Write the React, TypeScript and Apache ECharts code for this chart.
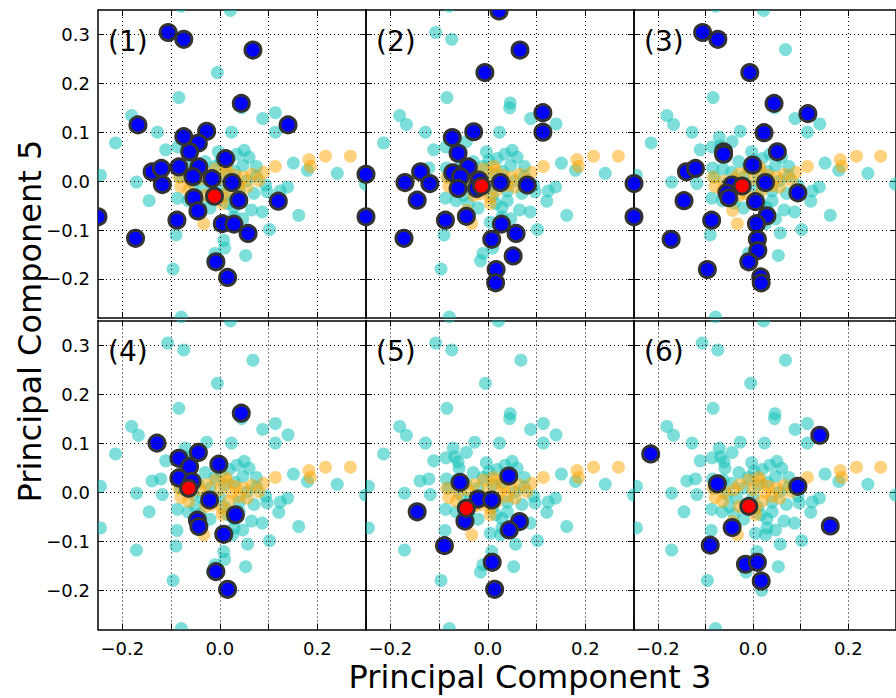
import React, { useEffect, useRef } from "react";
import * as echarts from "echarts";

// ---- axis ranges & ticks ----
const X_MIN = -0.25;
const X_MAX = 0.3;
const Y_MIN = -0.28;
const Y_MAX = 0.35;
const xTickValues = [-0.2, -0.1, 0.0, 0.1, 0.2, 0.3];
const xLabelValues = [-0.2, 0.0, 0.2];
const yTickValues = [-0.2, -0.1, 0.0, 0.1, 0.2, 0.3];
const xGridValues = [-0.2, -0.1, 0.0, 0.1, 0.2];
const yGridValues = [-0.2, -0.1, 0.0, 0.1, 0.2, 0.3];

const panelLabels = ["(1)", "(2)", "(3)", "(4)", "(5)", "(6)"];
const xTitle = "Principal Component 3";
const yTitle = "Principal Component 5";

// ---- background cloud (same in every panel) ----
const bgCyan: number[][] = [
  [0.022, 0.349], [-0.079, 0.358], [-0.107, 0.304], [-0.074, 0.29], [0.068, 0.269],
  [-0.005, 0.222], [-0.084, 0.171], [0.046, 0.16], [0.045, 0.15], [-0.181, 0.134],
  [-0.167, 0.116], [0.088, 0.128], [0.114, 0.14], [0.14, 0.117], [0.114, 0.1],
  [0.024, 0.1], [-0.027, 0.102], [-0.128, 0.1], [-0.214, 0.078], [-0.111, 0.064],
  [-0.071, 0.09], [-0.068, 0.072], [-0.061, 0.062], [-0.044, 0.081], [-0.086, 0.07],
  [-0.059, 0.049], [-0.003, 0.06], [0.05, 0.063], [0.06, 0.049], [0.047, 0.032],
  [0.019, 0.046], [0.002, 0.042], [0.151, 0.037], [0.18, 0.022], [0.241, 0.016],
  [0.299, -0.006], [-0.245, 0.012], [-0.171, -0.002], [-0.118, -0.005], [-0.139, 0.023],
  [-0.121, 0.027], [-0.085, 0.027], [-0.081, 0.008], [-0.145, -0.04], [-0.245, -0.073],
  [-0.171, -0.118], [-0.087, -0.035], [-0.088, -0.078], [-0.09, -0.11], [-0.096, -0.18],
  [-0.079, -0.278], [0.008, -0.121], [0.01, -0.137], [-0.01, -0.148], [-0.015, -0.163],
  [0.053, -0.152], [0.018, -0.2], [0.057, -0.106], [0.102, -0.099], [0.087, -0.063],
  [0.162, -0.07], [0.121, -0.041], [0.139, -0.012], [0.124, -0.02], [0.097, -0.022],
  [0.094, -0.008], [0.065, -0.059], [0.047, -0.077], [0.005, -0.084], [0.026, -0.087],
  [0.029, -0.073], [0.016, -0.046], [0.029, -0.054], [0.04, -0.04], [-0.05, -0.029],
  [-0.063, 0.025], [-0.045, 0.018], [-0.03, 0.04], [-0.01, 0.03], [0.01, 0.015],
  [-0.055, -0.005], [-0.035, -0.012], [-0.02, 0.008], [0.0, -0.01], [0.03, 0.02],
  [0.055, 0.0], [0.075, 0.01], [0.07, -0.025], [0.04, -0.02], [-0.04, -0.045],
  [-0.065, -0.04], [0.01, -0.03], [-0.02, -0.055], [0.075, 0.03], [0.035, 0.055],
];

const bgOrange: number[][] = [
  [0.217, 0.051], [0.268, 0.051], [0.183, 0.044], [0.186, 0.03], [0.114, 0.03],
  [0.09, 0.018], [0.066, 0.014], [0.049, 0.008], [0.032, 0.012], [0.015, 0.022],
  [-0.009, 0.025], [-0.029, 0.015], [-0.084, 0.008], [-0.08, -0.011], [-0.064, -0.019],
  [-0.029, -0.029], [-0.016, -0.026], [0.005, -0.033], [0.018, -0.019], [0.039, -0.009],
  [0.056, -0.012], [-0.033, -0.087], [0.005, -0.046], [-0.043, -0.06], [0.08, 0.001],
  [-0.04, 0.005], [0.0, 0.005], [0.025, 0.0], [-0.06, 0.0], [0.012, 0.03],
];

// ---- highlighted points per panel ----
const panel1Blue: number[][] = [
  [-0.106, 0.304], [-0.074, 0.29], [0.068, 0.268], [0.044, 0.159], [-0.168, 0.115],
  [0.14, 0.115], [-0.027, 0.102], [-0.074, 0.091], [-0.044, 0.078], [-0.062, 0.06],
  [0.012, 0.046], [-0.084, 0.029], [-0.043, 0.029], [-0.139, 0.019], [-0.12, 0.026],
  [-0.118, -0.007], [-0.055, 0.009], [-0.016, 0.005], [0.025, -0.003], [-0.053, -0.034],
  [0.039, -0.039], [0.12, -0.041], [-0.045, -0.061], [-0.088, -0.08], [0.005, -0.087],
  [0.029, -0.088], [0.058, -0.107], [-0.173, -0.117], [-0.008, -0.165], [0.016, -0.197],
  [-0.25, -0.073], [0.3, 0.014], [0.3, -0.073],
];
const panel2Blue: number[][] = [
  [0.023, 0.348], [0.066, 0.268], [-0.006, 0.222], [0.113, 0.14], [0.113, 0.1],
  [-0.029, 0.101], [-0.073, 0.089], [-0.061, 0.057], [-0.04, 0.029], [-0.138, 0.019],
  [-0.17, -0.003], [-0.119, -0.005], [-0.072, 0.017], [-0.056, 0.009], [-0.061, -0.015],
  [-0.018, 0.002], [-0.023, -0.015], [0.026, -0.003], [0.081, -0.008], [-0.145, -0.039],
  [-0.087, -0.08], [-0.044, -0.072], [0.028, -0.088], [0.058, -0.107], [0.008, -0.119],
  [-0.172, -0.117], [0.052, -0.153], [0.017, -0.181], [0.016, -0.208],
  [-0.25, 0.014], [-0.25, -0.073], [0.3, -0.005], [0.3, -0.073],
];
const panel3Blue: number[][] = [
  [-0.106, 0.304], [-0.074, 0.29], [-0.007, 0.222], [0.044, 0.159], [0.115, 0.138],
  [0.023, 0.099], [-0.062, 0.06], [-0.062, 0.055], [0.051, 0.06], [-0.001, 0.033],
  [-0.14, 0.019], [-0.121, 0.026], [0.026, -0.003], [-0.044, -0.008], [-0.055, -0.024],
  [-0.051, -0.034], [-0.145, -0.04], [0.005, -0.042], [0.029, -0.071], [0.007, -0.087],
  [0.094, -0.024], [-0.087, -0.08], [0.009, -0.119], [0.01, -0.142], [-0.009, -0.165],
  [-0.172, -0.119], [-0.096, -0.181], [0.016, -0.196], [0.017, -0.208],
  [-0.25, -0.005], [-0.25, -0.073],
];
const panel4Blue: number[][] = [
  [0.044, 0.161], [-0.129, 0.1], [-0.044, 0.081], [-0.084, 0.069], [-0.002, 0.057],
  [-0.062, 0.052], [-0.084, 0.029], [-0.057, 0.022], [-0.021, -0.016], [0.032, -0.046],
  [-0.046, -0.057], [-0.043, -0.07], [0.008, -0.086], [-0.008, -0.162], [0.016, -0.198],
];
const panel5Blue: number[][] = [
  [-0.057, 0.02], [0.043, 0.033], [-0.02, -0.014], [0.008, -0.016], [-0.145, -0.04],
  [-0.047, -0.059], [0.065, -0.06], [0.044, -0.077], [-0.089, -0.109], [0.009, -0.143],
  [0.014, -0.198],
];
const panel6Blue: number[][] = [
  [-0.215, 0.078], [0.14, 0.116], [-0.075, 0.017], [0.094, 0.012], [-0.044, -0.072],
  [0.162, -0.069], [-0.09, -0.108], [-0.016, -0.147], [0.009, -0.143], [0.017, -0.181],
];
const panelBlue = [panel1Blue, panel2Blue, panel3Blue, panel4Blue, panel5Blue, panel6Blue];
const panelRed: number[][] = [
  [-0.011, -0.031], [-0.013, -0.01], [-0.023, -0.01],
  [-0.064, 0.008], [-0.044, -0.033], [-0.009, -0.029],
];

// ---- layout ----
const COL_LEFT = [98, 366, 634];
const PANEL_W = 268;
const ROW_TOP = [10, 320.5];
const ROW_H = [308, 309];
const FONT = "DejaVu Sans";

const fmt = (v: number) => {
  const a = Math.abs(v).toFixed(1);
  return v < -1e-9 ? "\u2212" + a : a;
};

// circles drawn through the axis scales, clipped to the panel
function dotSeries(xi: number, yi: number, data: number[][], r: number, style: any, z: number) {
  return {
    type: "custom",
    xAxisIndex: xi,
    yAxisIndex: yi,
    data,
    clip: true,
    silent: true,
    z,
    encode: { x: 0, y: 1 },
    renderItem: (_params: any, api: any) => {
      const p = api.coord([api.value(0), api.value(1)]);
      return { type: "circle", shape: { cx: p[0], cy: p[1], r }, style };
    },
  };
}

function buildOption() {
  const grid: any[] = [];
  const xAxis: any[] = [];
  const yAxis: any[] = [];
  const series: any[] = [];
  const graphic: any[] = [];

  const axisLine = { show: true, onZero: false, lineStyle: { color: "#000", width: 1.5 } };
  const tickStyle = { color: "#000", width: 1 };

  for (let i = 0; i < 6; i++) {
    const col = i % 3;
    const row = Math.floor(i / 3);
    grid.push({ left: COL_LEFT[col], top: ROW_TOP[row], width: PANEL_W, height: ROW_H[row], containLabel: false });

    xAxis.push({
      gridIndex: i, type: "value", min: X_MIN, max: X_MAX, position: "bottom",
      axisLine,
      axisTick: { show: true, inside: true, length: 6, customValues: xTickValues, lineStyle: tickStyle },
      axisLabel: {
        show: row === 1, customValues: xLabelValues, formatter: fmt, margin: 10,
        fontSize: 18, color: "#000", fontFamily: FONT,
      },
      splitLine: { show: false },
    });
    xAxis.push({
      gridIndex: i, type: "value", min: X_MIN, max: X_MAX, position: "top",
      axisLine,
      axisTick: { show: true, inside: true, length: 6, customValues: xTickValues, lineStyle: tickStyle },
      axisLabel: { show: false },
      splitLine: { show: false },
    });
    yAxis.push({
      gridIndex: i, type: "value", min: Y_MIN, max: Y_MAX, position: "left",
      axisLine,
      axisTick: { show: true, inside: true, length: 6, customValues: yTickValues, lineStyle: tickStyle },
      axisLabel: {
        show: col === 0, customValues: yTickValues, formatter: fmt, margin: 8,
        fontSize: 18, color: "#000", fontFamily: FONT,
      },
      splitLine: { show: false },
    });
    yAxis.push({
      gridIndex: i, type: "value", min: Y_MIN, max: Y_MAX, position: "right",
      axisLine,
      axisTick: { show: true, inside: true, length: 6, customValues: yTickValues, lineStyle: tickStyle },
      axisLabel: { show: false },
      splitLine: { show: false },
    });

    const xi = 2 * i;
    const yi = 2 * i;
    series.push({
      type: "scatter", xAxisIndex: xi, yAxisIndex: yi, data: [], silent: true, z: 1,
      markLine: {
        silent: true, symbol: ["none", "none"], label: { show: false }, animation: false,
        lineStyle: { color: "#000", width: 1, type: [1, 3] },
        emphasis: { disabled: true },
        data: [
          ...xGridValues.map((v) => ({ xAxis: v })),
          ...yGridValues.map((v) => ({ yAxis: v })),
        ],
      },
    });
    series.push(dotSeries(xi, yi, bgCyan, 6.5, { fill: "rgba(20,195,185,0.55)" }, 2));
    series.push(dotSeries(xi, yi, bgOrange, 6.5, { fill: "rgba(255,165,0,0.5)" }, 3));
    series.push(dotSeries(xi, yi, panelBlue[i], 8, { fill: "#0000ff", stroke: "#333333", lineWidth: 3 }, 4));
    series.push(dotSeries(xi, yi, [panelRed[i]], 8, { fill: "#ff0000", stroke: "#333333", lineWidth: 3 }, 5));

    graphic.push({
      type: "text", x: COL_LEFT[col] + 10, y: ROW_TOP[row] + 31, z: 100,
      style: { text: panelLabels[i], fontSize: 28, fontFamily: FONT, fill: "#000", align: "left", verticalAlign: "middle" },
    });
  }

  graphic.push({
    type: "text", x: 530, y: 677, z: 100,
    style: { text: xTitle, fontSize: 32, fontFamily: FONT, fill: "#000", align: "center", verticalAlign: "middle" },
  });
  graphic.push({
    type: "text", x: 30, y: 321, rotation: Math.PI / 2, z: 100,
    style: { text: yTitle, fontSize: 32, fontFamily: FONT, fill: "#000", align: "center", verticalAlign: "middle" },
  });

  return {
    animation: false,
    backgroundColor: "#ffffff",
    grid, xAxis, yAxis, series, graphic,
  };
}

export default function App() {
  const ref = useRef<HTMLDivElement>(null);
  useEffect(() => {
    document.body.style.margin = "0";
    if (!ref.current) return;
    const chart = echarts.init(ref.current, null, { renderer: "svg" });
    chart.setOption(buildOption() as any);
    return () => chart.dispose();
  }, []);
  return (
    <div
      ref={ref}
      style={{ position: "absolute", left: 0, top: 0, width: 896, height: 698, background: "#fff" }}
    />
  );
}
